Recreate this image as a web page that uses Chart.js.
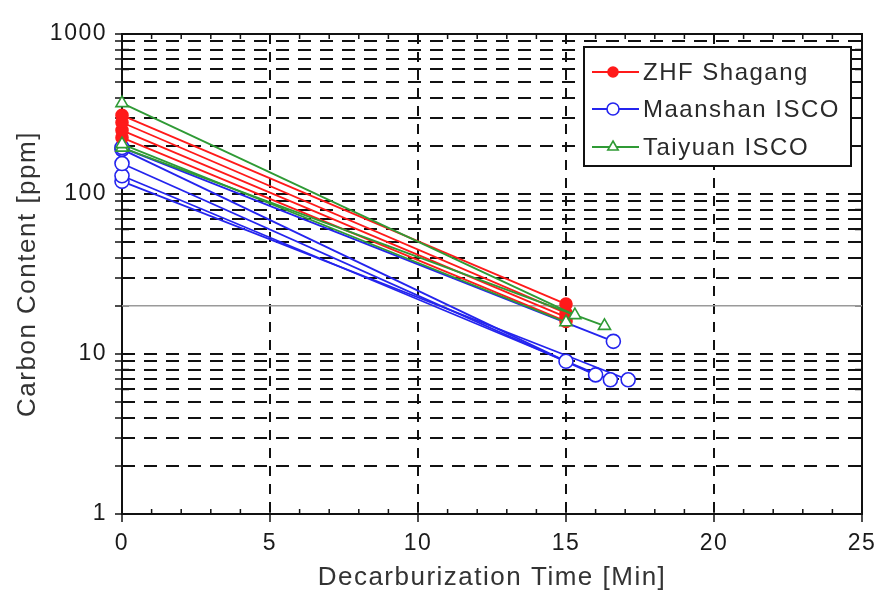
<!DOCTYPE html>
<html lang="en">
<head>
  <meta charset="UTF-8">
  <title>Carbon Content vs Decarburization Time</title>
  <script src="https://cdn.jsdelivr.net/npm/chart.js@4.4.0/dist/chart.umd.min.js"></script>
  <style>
    body {
      margin: 0;
      padding: 0;
      background-color: #fff;
    }

    #chart-container {
      width: 878px;
      height: 599px;
    }
  </style>
</head>
<body>
  <div id="chart-container">
    <canvas id="carbonChart"></canvas>
  </div>

  <script>
    // Groups (legend)
    const groupNames = ['ZHF Shagang', 'Maanshan ISCO', 'Taiyuan ISCO'];

    // ZHF Shagang heats: start at 0 min, end at given time
    const shagangStart = [310, 280, 250, 225];
    const shagangEndTime = [15, 15, 15, 15];
    const shagangEnd = [20.5, 18, 17, 16];

    // Maanshan ISCO heats
    const maanshanStart = [195, 190, 155, 130, 120];
    const maanshanEndTime = [16.6, 15, 16, 16.5, 17.1];
    const maanshanEnd = [12, 9, 7.4, 6.9, 6.9];

    // Taiyuan ISCO heats
    const taiyuanStart = [370, 205, 195];
    const taiyuanEndTime = [15.3, 15, 16.3];
    const taiyuanEnd = [17.5, 15.8, 15];

    // Horizontal reference line
    const specLimit = 20;

    // Axis ticks
    const xTickLabels = [0, 5, 10, 15, 20, 25];
    const yTickLabels = [1, 10, 100, 1000];

    const styles = {
      'ZHF Shagang': { color: '#ff1a1a', fill: '#ff1a1a', pointStyle: 'circle', radius: 6 },
      'Maanshan ISCO': { color: '#2424ee', fill: '#ffffff', pointStyle: 'circle', radius: 7 },
      'Taiyuan ISCO': { color: '#2f9a35', fill: '#ffffff', pointStyle: 'triangle', radius: 7 }
    };

    const makeHeats = (group, starts, times, ends) => starts.map((s, i) => {
      const st = styles[group];
      return {
        label: group,
        data: [{ x: 0, y: s }, { x: times[i], y: ends[i] }],
        borderColor: st.color,
        backgroundColor: st.fill,
        pointBackgroundColor: st.fill,
        pointBorderColor: st.color,
        pointStyle: st.pointStyle,
        pointRadius: st.radius,
        pointBorderWidth: 1.6,
        borderWidth: 1.8,
        clip: false
      };
    });

    // first dataset is drawn on top
    const datasets = [
      ...makeHeats('Taiyuan ISCO', taiyuanStart, taiyuanEndTime, taiyuanEnd),
      ...makeHeats('ZHF Shagang', shagangStart, shagangEndTime, shagangEnd),
      ...makeHeats('Maanshan ISCO', maanshanStart, maanshanEndTime, maanshanEnd),
      {
        label: 'limit',
        data: [{ x: 0, y: specLimit }, { x: 25, y: specLimit }],
        borderColor: '#9a9a9a',
        borderWidth: 1.5,
        pointRadius: 0
      }
    ];

    // y ticks 1..9, 10..90, 100..900, 1000
    const yTickValues = [];
    for (let d = 1; d < 1000; d *= 10) {
      for (let k = 1; k < 10; k++) yTickValues.push(k * d);
    }
    yTickValues.push(1000);

    const FONT = "'Liberation Sans', Arial, sans-serif";

    // the original lettering is set wide
    const spacingPlugin = {
      id: 'spacing',
      beforeDraw(chart) {
        chart.ctx.letterSpacing = '1.5px';
      }
    };

    // frame + inner tick marks
    const framePlugin = {
      id: 'frame',
      beforeDatasetsDraw(chart) {
        const { ctx, chartArea: a, scales: { x, y } } = chart;
        ctx.save();
        ctx.strokeStyle = '#111';
        ctx.lineWidth = 2;
        ctx.strokeRect(a.left, a.top, a.right - a.left, a.bottom - a.top);
        ctx.lineWidth = 1.5;
        ctx.beginPath();
        for (let v = 0; v <= 25; v++) {
          const px = x.getPixelForValue(v);
          const len = v % 5 === 0 ? 9 : 5;
          ctx.moveTo(px, a.bottom); ctx.lineTo(px, a.bottom - len);
          ctx.moveTo(px, a.top); ctx.lineTo(px, a.top + len);
        }
        yTickValues.forEach(v => {
          const py = y.getPixelForValue(v);
          ctx.moveTo(a.left, py); ctx.lineTo(a.left + 7, py);
          ctx.moveTo(a.right, py); ctx.lineTo(a.right - 7, py);
        });
        ctx.stroke();
        ctx.restore();
      }
    };

    // boxed legend inside the plot, line + marker per group
    const legendPlugin = {
      id: 'boxLegend',
      afterDatasetsDraw(chart) {
        const { ctx } = chart;
        const box = { left: 584, top: 47, right: 851, bottom: 166 };
        ctx.save();
        ctx.fillStyle = '#fff';
        ctx.fillRect(box.left, box.top, box.right - box.left, box.bottom - box.top);
        ctx.strokeStyle = '#111';
        ctx.lineWidth = 2;
        ctx.strokeRect(box.left, box.top, box.right - box.left, box.bottom - box.top);
        const rowsY = [72, 109, 147];
        groupNames.forEach((name, i) => {
          const st = styles[name];
          const yy = rowsY[i];
          ctx.strokeStyle = st.color;
          ctx.lineWidth = 1.8;
          ctx.beginPath();
          ctx.moveTo(592, yy); ctx.lineTo(639, yy);
          ctx.stroke();
          ctx.fillStyle = st.fill;
          ctx.lineWidth = 1.6;
          Chart.helpers.drawPoint(ctx, { pointStyle: st.pointStyle, radius: st.radius - 1, borderWidth: 1.6 }, 613, yy);
          ctx.fillStyle = '#2a2a2a';
          ctx.font = '24px ' + FONT;
          ctx.letterSpacing = '1.5px';
          ctx.textBaseline = 'middle';
          ctx.fillText(name, 643, yy + 1);
        });
        ctx.restore();
      }
    };

    const ctx = document.getElementById('carbonChart').getContext('2d');
    const carbonChart = new Chart(ctx, {
      type: 'line',
      data: { datasets },
      options: {
        responsive: true,
        maintainAspectRatio: false,
        animation: false,
        layout: { padding: { top: 34, right: 16, left: 0, bottom: 0 } },
        plugins: {
          legend: { display: false },
          tooltip: { enabled: false }
        },
        scales: {
          x: {
            type: 'linear',
            min: 0,
            max: 25,
            afterFit: (s) => {
              s.height = 85;
              s.paddingRight = 0;
              s.paddingLeft = 0;
            },
            ticks: {
              stepSize: 1,
              autoSkip: false,
              maxRotation: 0,
              color: '#1a1a1a',
              font: { family: FONT, size: 23 },
              padding: 8,
              callback: (v) => xTickLabels.includes(v) ? String(v) : ''
            },
            grid: {
              color: (c) => (c.tick && c.tick.value % 5 === 0 && c.tick.value > 0 && c.tick.value < 25) ? '#111' : 'rgba(0,0,0,0)',
              lineWidth: 2,
              tickLength: 8,
              tickColor: (c) => (c.tick && c.tick.value % 5 === 0) ? '#111' : 'rgba(0,0,0,0)',
              tickWidth: 1.5
            },
            border: { display: false, dash: [10, 8] },
            title: {
              display: true,
              text: 'Decarburization Time [Min]',
              color: '#333',
              font: { family: FONT, size: 26 },
              padding: { top: 6, bottom: 6 }
            }
          },
          y: {
            type: 'logarithmic',
            min: 1,
            max: 1000,
            afterFit: (s) => { s.width = 122; },
            afterBuildTicks: (s) => {
              s.ticks = yTickValues.map(v => ({ value: v, major: yTickLabels.includes(v) }));
            },
            ticks: {
              autoSkip: false,
              color: '#1a1a1a',
              font: { family: FONT, size: 23 },
              padding: 8,
              callback: (v) => yTickLabels.includes(v) ? String(v) : ''
            },
            grid: {
              color: (c) => (c.tick && c.tick.value > 1 && c.tick.value < 1000 && c.tick.value !== specLimit) ? '#111' : 'rgba(0,0,0,0)',
              lineWidth: 2,
              tickLength: 7,
              tickColor: '#111',
              tickWidth: 1.5
            },
            border: { display: false, dash: [13, 9] },
            title: {
              display: true,
              text: 'Carbon Content [ppm]',
              color: '#333',
              font: { family: FONT, size: 26 },
              padding: { top: 12, bottom: 8 }
            }
          }
        }
      },
      plugins: [spacingPlugin, framePlugin, legendPlugin]
    });
  </script>
</body>
</html>
